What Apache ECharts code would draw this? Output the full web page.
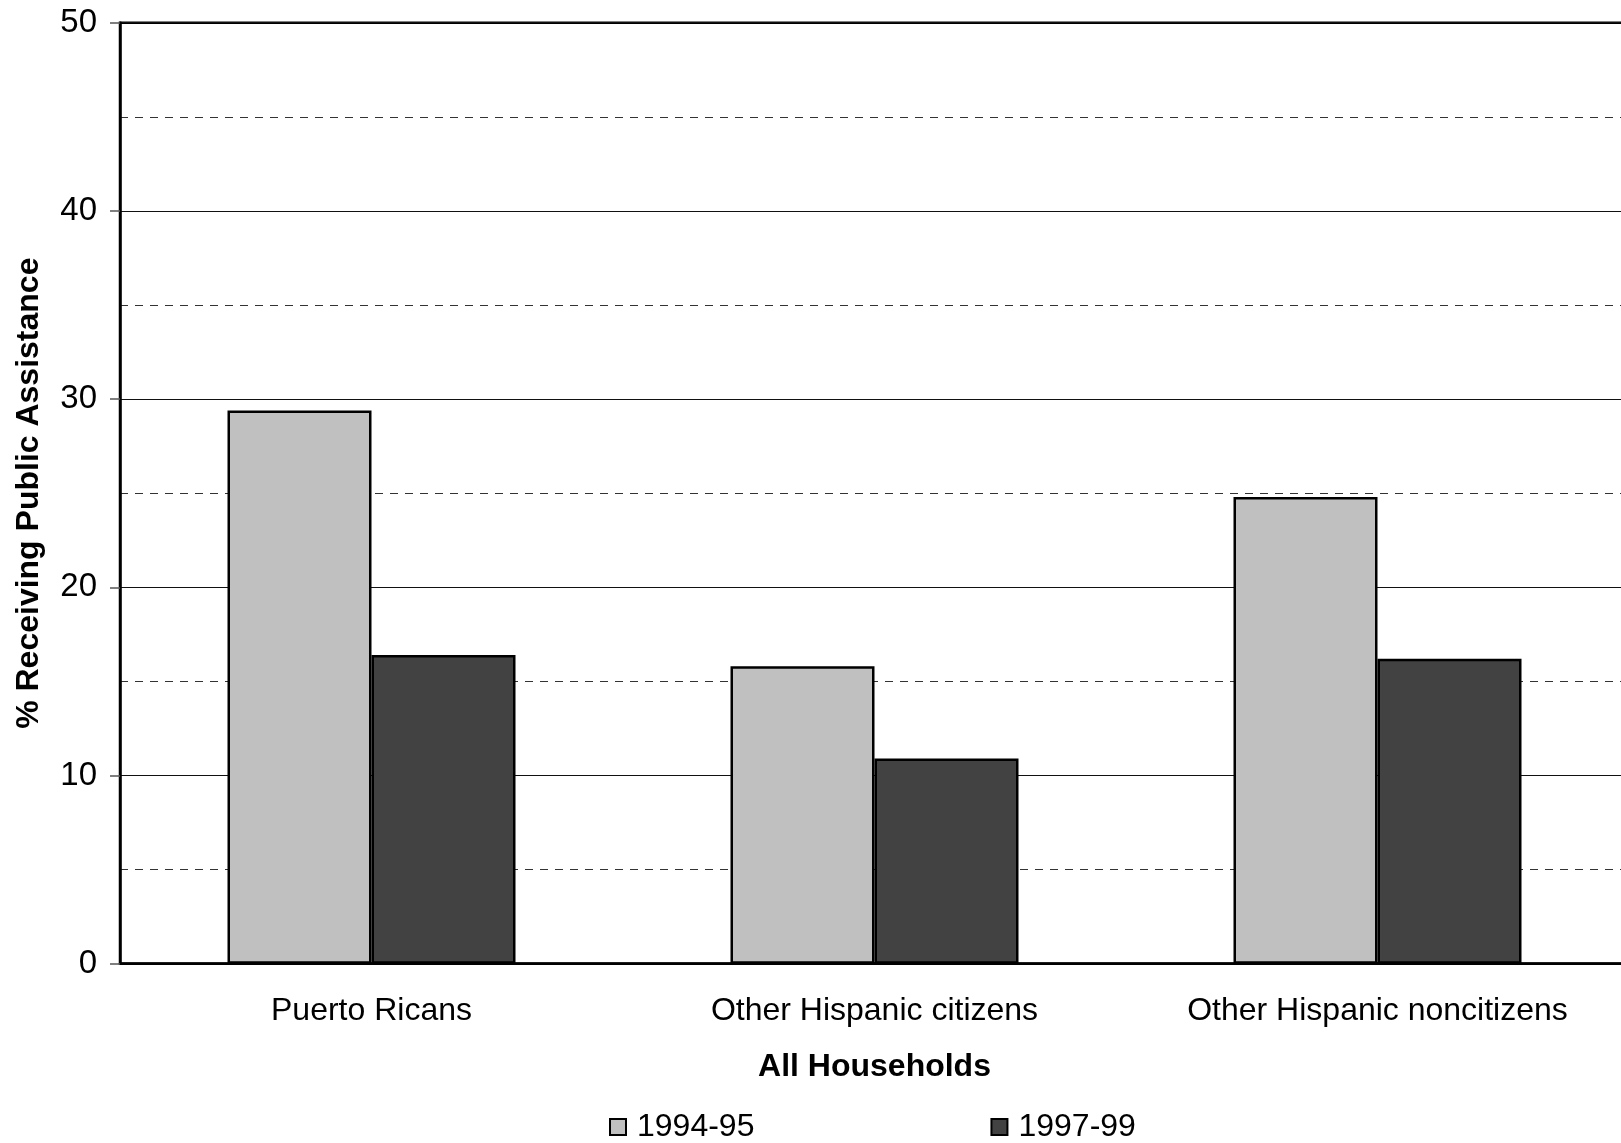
<!DOCTYPE html>
<html>
<head>
<meta charset="utf-8">
<title>% Receiving Public Assistance — All Households</title>
<script src="https://cdn.jsdelivr.net/npm/echarts@6/dist/echarts.min.js"></script>
<style>
  html, body { margin: 0; padding: 0; background: #fff; }
  #chart { width: 1621px; height: 1143px; }
</style>
</head>
<body>
<div id="chart"></div>
<script>
// Household groups along the x axis
const categories = ['Puerto Ricans', 'Other Hispanic citizens', 'Other Hispanic noncitizens'];

// Share of households receiving public assistance (%)
const period1Name = '1994-95';
const period1Values = [29.4, 15.8, 24.8];
const period2Name = '1997-99';
const period2Values = [16.4, 10.9, 16.2];

// Value axis range
const yMin = 0;
const yMax = 50;
const yStep = 10;

const FONT = '"Liberation Sans", Arial, Helvetica, sans-serif';

const chart = echarts.init(document.getElementById('chart'), null, { renderer: 'canvas' });

chart.setOption({
  backgroundColor: '#ffffff',
  animation: false,
  textStyle: { fontFamily: FONT, color: '#000' },
  grid: {
    left: 120,
    top: 22.7,
    width: 1509,
    height: 941,
    containLabel: false,
    outerBoundsMode: 'none',
    show: true,
    borderColor: '#000',
    borderWidth: 2.5,
    backgroundColor: 'transparent'
  },
  legend: {
    data: [period1Name, period2Name],
    left: 609,
    top: 1111,
    padding: 0,
    itemGap: 236,
    itemWidth: 16,
    itemHeight: 16,
    icon: 'rect',
    textStyle: { fontFamily: FONT, fontSize: 32, color: '#000', padding: [0, 0, 0, 6] }
  },
  xAxis: {
    type: 'category',
    data: categories,
    name: 'All Households',
    nameLocation: 'middle',
    nameGap: 87,
    nameTextStyle: { fontFamily: FONT, fontSize: 32, fontWeight: 'bold', color: '#000' },
    axisLine: { show: true, lineStyle: { color: '#000', width: 2.5 } },
    axisTick: { show: false },
    axisLabel: { margin: 31, fontFamily: FONT, fontSize: 32, color: '#000' },
    splitLine: { show: false }
  },
  yAxis: {
    type: 'value',
    min: yMin,
    max: yMax,
    interval: yStep,
    name: '% Receiving Public Assistance',
    nameLocation: 'middle',
    nameGap: 75,
    nameTextStyle: { fontFamily: FONT, fontSize: 32, fontWeight: 'bold', color: '#000' },
    axisLine: { show: true, lineStyle: { color: '#000', width: 2.5 } },
    axisTick: { show: true, length: 10, lineStyle: { color: '#555', width: 1.5 } },
    axisLabel: { margin: 23, fontFamily: FONT, fontSize: 33, color: '#000' },
    splitLine: { show: true, lineStyle: { color: '#111', width: 1.2, type: 'solid' } },
    minorTick: { show: false, splitNumber: 2 },
    minorSplitLine: { show: true, lineStyle: { color: '#333', width: 1.2, type: [8, 7] } }
  },
  series: [
    {
      name: period1Name,
      type: 'bar',
      data: period1Values,
      barWidth: 144,
      barGap: '0%',
      itemStyle: { color: '#c0c0c0', borderColor: '#000', borderWidth: 2.5 }
    },
    {
      name: period2Name,
      type: 'bar',
      data: period2Values,
      barWidth: 144,
      barGap: '0%',
      itemStyle: { color: '#424242', borderColor: '#000', borderWidth: 2.5 }
    }
  ]
});
</script>
</body>
</html>
